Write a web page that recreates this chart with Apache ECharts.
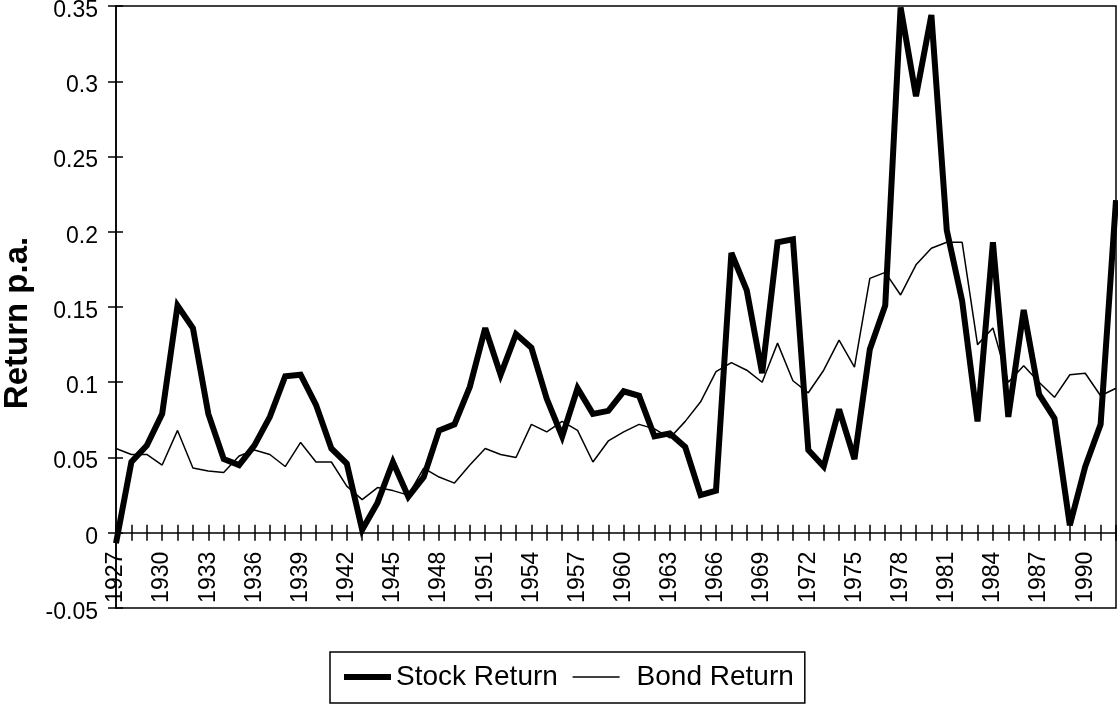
<!DOCTYPE html>
<html>
<head>
<meta charset="utf-8">
<script src="https://cdn.jsdelivr.net/npm/echarts@6/dist/echarts.min.js"></script>
<style>
html,body{margin:0;padding:0;background:#fff;}
#chart{width:1118px;height:704px;}
</style>
</head>
<body>
<div id="chart"></div>
<script>
const years = [];
for (let y = 1927; y <= 1992; y++) years.push(String(y));

const stockReturn = [
  -0.007, 0.047, 0.058, 0.079, 0.151, 0.136, 0.079, 0.049, 0.045, 0.058,
  0.077, 0.104, 0.105, 0.085, 0.056, 0.046, 0.002, 0.020, 0.047, 0.024,
  0.037, 0.068, 0.072, 0.097, 0.136, 0.105, 0.132, 0.123, 0.089, 0.064,
  0.096, 0.079, 0.081, 0.094, 0.091, 0.064, 0.066, 0.057, 0.025, 0.028,
  0.186, 0.161, 0.106, 0.193, 0.195, 0.055, 0.044, 0.082, 0.049, 0.122,
  0.151, 0.349, 0.290, 0.344, 0.201, 0.154, 0.074, 0.193, 0.077, 0.148,
  0.092, 0.076, 0.005, 0.044, 0.072, 0.221
];

const bondReturn = [
  0.056, 0.052, 0.052, 0.045, 0.068, 0.043, 0.041, 0.040, 0.051, 0.055,
  0.052, 0.044, 0.060, 0.047, 0.047, 0.031, 0.022, 0.030, 0.028, 0.025,
  0.043, 0.037, 0.033, 0.045, 0.056, 0.052, 0.050, 0.072, 0.067, 0.074,
  0.068, 0.047, 0.061, 0.067, 0.072, 0.069, 0.063, 0.074, 0.087, 0.107,
  0.113, 0.108, 0.100, 0.126, 0.101, 0.093, 0.108, 0.128, 0.110, 0.169,
  0.173, 0.158, 0.178, 0.189, 0.193, 0.193, 0.125, 0.136, 0.100, 0.111,
  0.100, 0.090, 0.105, 0.106, 0.091, 0.096
];

const yMin = -0.05, yMax = 0.35, yStep = 0.05;
const FONT = 'Liberation Sans, Arial, sans-serif';

const gridTop = 6, gridBottomY = 608, gridLeft = 116, gridRightX = 1116;
const plotH = gridBottomY - gridTop;
const plotW = gridRightX - gridLeft;
const zeroFromBottom = plotH * (0 - yMin) / (yMax - yMin);

const chart = echarts.init(document.getElementById('chart'), null, {renderer: 'canvas'});
chart.setOption({
  animation: false,
  backgroundColor: '#ffffff',
  grid: {
    left: gridLeft, right: 1118 - gridRightX, top: gridTop, bottom: 704 - gridBottomY,
    containLabel: false, outerBoundsMode: 'none',
    show: true, borderColor: '#000', borderWidth: 1.5, backgroundColor: 'transparent'
  },
  legend: {
    left: 330, top: 652,
    padding: [11, 11, 12, 11],
    borderColor: '#000', borderWidth: 1.5,
    itemWidth: 47, itemHeight: 14, itemGap: 14,
    itemStyle: {color: 'rgba(0,0,0,0)', borderColor: 'rgba(0,0,0,0)', borderWidth: 0},
    textStyle: {fontFamily: FONT, fontSize: 28, color: '#000'},
    data: [
      {name: 'Stock Return', lineStyle: {width: 6, color: '#000'}},
      {name: 'Bond Return', lineStyle: {width: 1.5, color: '#000'},
       textStyle: {fontFamily: FONT, fontSize: 28, color: '#000', padding: [0, 0, 0, 12]}}
    ]
  },
  xAxis: [{
    type: 'category', data: years, boundaryGap: false,
    position: 'bottom', offset: -zeroFromBottom,
    axisLine: {onZero: false, lineStyle: {color: '#000', width: 1.5}},
    axisTick: {show: true, interval: 0, length: 8, lineStyle: {color: '#000', width: 1.5}},
    axisLabel: {interval: 2, rotate: 90, margin: 19, fontFamily: FONT, fontSize: 23, color: '#000'},
    splitLine: {show: false}
  }, {
    type: 'category', data: years, boundaryGap: false,
    position: 'top', offset: -(plotH - zeroFromBottom),
    axisLine: {show: false, onZero: false},
    axisTick: {show: true, interval: 0, length: 8, lineStyle: {color: '#000', width: 1.5}},
    axisLabel: {show: false},
    splitLine: {show: false}
  }],
  yAxis: [{
    type: 'value', min: yMin, max: yMax, interval: yStep,
    name: 'Return p.a.', nameLocation: 'middle', nameGap: 79,
    nameTextStyle: {fontFamily: FONT, fontSize: 33, fontWeight: 'bold', color: '#000', padding: [0, 32, 0, 0]},
    axisLine: {show: true, onZero: false, lineStyle: {color: '#000', width: 1.5}},
    axisTick: {show: true, length: 8, lineStyle: {color: '#000', width: 1.5}},
    axisLabel: {margin: 18, fontFamily: FONT, fontSize: 23, color: '#000', verticalAlign: 'top', lineHeight: 9},
    splitLine: {show: false}
  }, {
    type: 'value', min: yMin, max: yMax, interval: yStep,
    position: 'right', offset: -plotW,
    axisLine: {show: false, onZero: false},
    axisTick: {show: true, length: 7, lineStyle: {color: '#000', width: 1.5}},
    axisLabel: {show: false},
    splitLine: {show: false}
  }],
  series: [{
    name: 'Stock Return', type: 'line', data: stockReturn,
    xAxisIndex: 0, yAxisIndex: 0,
    symbol: 'none', smooth: false,
    lineStyle: {color: '#000', width: 6, join: 'miter', miterLimit: 3},
    itemStyle: {color: '#000'}
  }, {
    name: 'Bond Return', type: 'line', data: bondReturn,
    xAxisIndex: 0, yAxisIndex: 0,
    symbol: 'none', smooth: false,
    lineStyle: {color: '#000', width: 1.5},
    itemStyle: {color: '#000'}
  }]
});
</script>
</body>
</html>
